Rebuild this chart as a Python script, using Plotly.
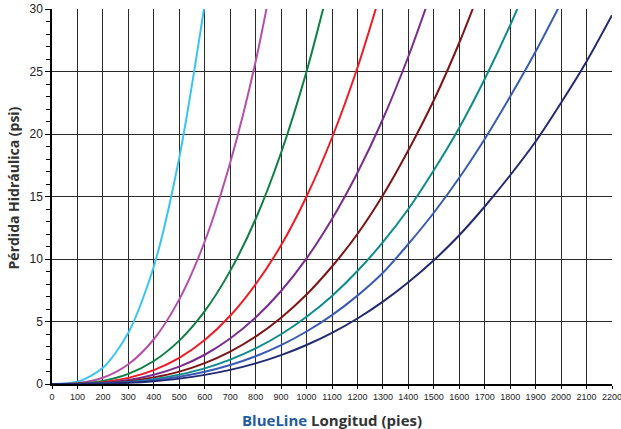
import plotly.graph_objects as go

lengths = [0, 100, 200, 300, 400, 500, 600, 700, 800, 900, 1000, 1100,
           1200, 1300, 1400, 1500, 1600, 1700, 1800, 1900, 2000, 2100, 2200]

s1 = [0, 0.18, 1.3, 4.1, 9.4, 18.1, 30.4]
s2 = [0, 0.07, 0.50, 1.58, 3.58, 6.77, 11.4, 17.7, 25.8, 36.1]
s3 = [0, 0.035, 0.25, 0.81, 1.84, 3.47, 5.83, 9.05, 13.2, 18.5, 25.0, 32.8]
s4 = [0, 0.021, 0.15, 0.49, 1.11, 2.09, 3.52, 5.46, 7.98, 11.1, 15.0, 19.7, 25.3, 31.9]
s5 = [0, 0.014, 0.10, 0.32, 0.74, 1.39, 2.34, 3.64, 5.32, 7.44, 10.05, 13.2, 16.9, 21.2, 26.2, 31.9]
s6 = [0, 0.010, 0.073, 0.23, 0.53, 0.99, 1.67, 2.59, 3.79, 5.30, 7.16, 9.40, 12.0, 15.1, 18.7, 22.7, 27.3, 32.5]
s7 = [0, 0.008, 0.055, 0.17, 0.39, 0.75, 1.25, 1.95, 2.85, 3.98, 5.38, 7.05, 9.04, 11.35, 14.0, 17.1, 20.5, 24.4, 28.7, 33.5]
s8 = [0, 0.006, 0.043, 0.14, 0.31, 0.58, 0.98, 1.52, 2.22, 3.11, 4.20, 5.51, 7.07, 8.9, 11.2, 13.7, 16.5, 19.6, 23.0, 26.6, 30.5]
s9 = [0, 0.004, 0.032, 0.10, 0.23, 0.43, 0.73, 1.13, 1.65, 2.31, 3.12, 4.09, 5.24, 6.59, 8.14, 9.90, 11.9, 14.2, 16.7, 19.4, 22.5, 25.8, 29.5]

series = [s1, s2, s3, s4, s5, s6, s7, s8, s9]
colors = ["#38C5F2", "#B64FAA", "#0E8043", "#EE1C25", "#7B2D8E",
          "#7E1416", "#0E8C8C", "#3A5BB5", "#232A74"]

x_ticks = list(range(0, 2201, 100))
y_ticks = [0, 5, 10, 15, 20, 25, 30]

x_title = "<b><span style='color:#1F5C9E'>BlueLine</span> Longitud (pies)</b>"
y_title = "<b>Pérdida Hidráulica (psi)</b>"

fig = go.Figure()
for vals, col in zip(series, colors):
    fig.add_trace(go.Scatter(
        x=lengths[:len(vals)], y=vals, mode="lines",
        line=dict(color=col, width=2, shape="spline", smoothing=0.8),
        showlegend=False, hoverinfo="skip"))

fig.update_layout(
    width=621, height=429,
    margin=dict(l=52, r=9, t=9, b=45, autoexpand=False),
    paper_bgcolor="white", plot_bgcolor="white",
    font=dict(family="Liberation Sans, Arial, sans-serif", color="#222"),
    annotations=[
        dict(text=x_title, xref="paper", yref="paper", x=0.5, y=-0.096,
             xanchor="center", yanchor="middle", showarrow=False,
             font=dict(family="Open Sans, Noto Sans, sans-serif", size=15, color="#333")),
        dict(text=y_title, xref="paper", yref="paper", x=-0.068, y=0.524,
             xanchor="center", yanchor="middle", showarrow=False, textangle=-90,
             font=dict(family="Open Sans, Noto Sans, sans-serif", size=14, color="#333")),
    ],
)

fig.update_xaxes(
    range=[0, 2200], tickvals=x_ticks, ticktext=[str(v) for v in x_ticks],
    tickfont=dict(size=9, color="#222"), automargin=False,
    ticklabeloverflow="allow",
    ticks="outside", ticklen=3, tickcolor="black",
    showgrid=True, gridcolor="#2a2a2a", gridwidth=1,
    showline=True, linecolor="black", linewidth=1.5, zeroline=False,
)

fig.update_yaxes(
    range=[0, 30], tickvals=y_ticks, automargin=False,
    tickfont=dict(size=12, color="#222"),
    ticks="outside", ticklen=5, tickcolor="black",
    minor=dict(dtick=1, ticks="outside", ticklen=4, tickcolor="black", showgrid=False),
    showgrid=True, gridcolor="#2a2a2a", gridwidth=1,
    showline=True, linecolor="black", linewidth=1.5, zeroline=False,
)

fig.write_html("out.html", config={"displayModeBar": False},
               post_script="document.body.style.margin='0';")
